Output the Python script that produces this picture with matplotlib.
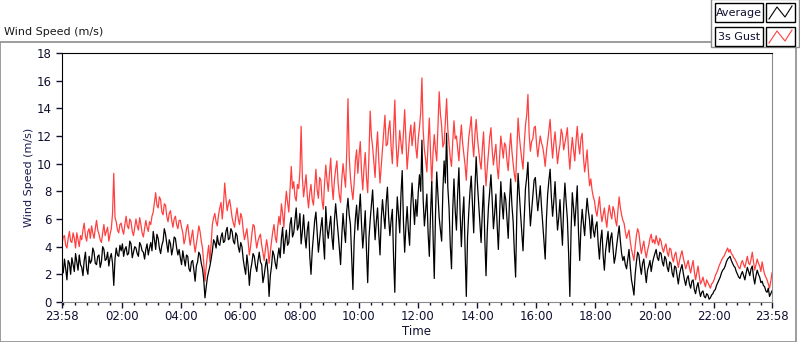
import matplotlib
matplotlib.use("Agg")
import matplotlib.pyplot as plt
import numpy as np
from matplotlib.patches import Rectangle

# 2.5 minute samples, one row per hour, starting 23:58
average = [
    2.6, 2.1, 3.1, 2.4, 1.6, 3.0, 2.8, 2.0, 3.2, 2.7, 2.2, 3.5, 2.9, 2.3, 3.4, 2.7, 2.5, 1.9, 3.0, 3.6, 2.4, 2.0, 3.3, 2.8,
    3.0, 3.9, 3.6, 2.8, 2.7, 3.3, 3.4, 2.5, 2.9, 4.0, 3.8, 3.0, 3.1, 3.6, 2.6, 3.2, 3.5, 2.8, 1.2, 3.1, 3.9, 3.4, 3.3, 4.1,
    3.7, 4.2, 3.3, 3.8, 4.0, 3.4, 3.5, 4.4, 4.2, 3.2, 3.6, 4.0, 3.9, 3.5, 3.3, 4.3, 4.1, 3.7, 3.6, 3.1, 3.8, 4.2, 3.4, 3.9,
    4.3, 3.7, 5.1, 4.5, 3.8, 4.9, 4.6, 3.9, 3.5, 4.1, 4.4, 5.3, 4.9, 4.2, 3.6, 4.5, 4.2, 3.4, 3.9, 4.7, 4.6, 3.9, 3.4, 3.8,
    3.2, 2.7, 3.7, 3.1, 2.6, 3.4, 3.3, 2.4, 2.2, 2.9, 3.0, 2.3, 1.5, 2.6, 2.9, 3.6, 3.4, 2.8, 2.4, 1.6, 0.3, 1.1, 1.8, 2.2,
    2.6, 3.1, 3.7, 4.5, 4.3, 3.9, 4.8, 4.2, 4.1, 4.7, 5.0, 4.3, 4.4, 5.1, 5.4, 4.5, 4.6, 5.3, 5.1, 4.4, 4.2, 5.0, 4.8, 4.0,
    3.6, 4.3, 4.0, 3.1, 2.5, 2.0, 3.4, 2.6, 1.2, 2.3, 2.8, 3.5, 3.3, 2.6, 2.2, 3.0, 3.6, 2.9, 2.7, 1.4, 1.9, 2.6, 3.1, 2.2,
    0.4, 1.9, 2.6, 3.7, 3.4, 2.8, 2.4, 3.3, 3.9, 3.2, 4.6, 5.4, 3.5, 4.4, 5.2, 4.1, 4.3, 5.6, 6.1, 4.7, 5.0, 5.9, 6.8, 5.2,
    5.5, 6.4, 4.2, 5.1, 6.3, 4.8, 3.9, 5.2, 5.8, 3.3, 2.0, 3.7, 4.8, 5.9, 6.5, 5.0, 3.6, 4.5, 5.4, 6.1, 4.4, 3.1, 6.9, 5.3,
    4.6, 5.5, 6.2, 4.7, 3.8, 5.9, 7.1, 6.0, 5.0, 3.9, 2.7, 4.8, 6.4, 5.2, 4.3, 6.6, 7.5, 6.3, 5.6, 3.2, 0.9, 4.4, 6.0, 7.0,
    5.2, 6.5, 7.8, 5.6, 3.9, 5.1, 6.6, 3.8, 1.4, 4.6, 5.9, 7.0, 8.1, 6.2, 4.5, 5.8, 6.8, 4.9, 3.4, 6.0, 7.4, 6.3, 5.3, 7.2,
    8.3, 6.1, 4.8, 5.9, 6.7, 3.2, 0.7, 5.4, 7.6, 6.3, 5.0, 7.8, 9.5, 5.8, 3.6, 5.5, 6.9, 5.2, 4.1, 7.0, 8.6, 7.1, 5.6, 7.4,
    6.2, 7.9, 9.2, 8.0, 11.7, 7.4, 5.5, 6.6, 7.8, 5.0, 3.3, 6.4, 8.7, 4.9, 1.7, 6.3, 9.4, 7.7, 6.1, 5.2, 4.4, 8.1, 10.2, 8.6,
    12.2, 8.3, 6.8, 4.1, 2.4, 6.7, 8.9, 6.6, 5.2, 7.9, 9.7, 6.4, 4.0, 6.2, 7.6, 3.8, 0.4, 4.7, 6.5, 8.0, 9.1, 7.0, 5.0, 8.2,
    10.5, 8.6, 7.2, 5.9, 4.3, 6.5, 8.4, 4.6, 1.9, 5.1, 6.9, 8.0, 9.2, 7.4, 5.3, 6.4, 7.8, 5.6, 3.8, 6.3, 8.7, 7.1, 6.0, 7.9,
    7.4, 6.0, 4.6, 7.2, 8.9, 7.0, 5.8, 3.6, 1.8, 6.5, 9.3, 7.8, 6.4, 5.0, 3.7, 6.1, 8.2, 9.0, 10.1, 7.3, 5.5, 6.6, 7.7, 8.8,
    9.0, 7.7, 6.6, 7.5, 8.4, 6.9, 5.7, 4.4, 3.1, 6.0, 7.8, 8.8, 9.6, 7.6, 6.2, 7.3, 8.7, 6.8, 5.2, 6.1, 7.4, 5.6, 4.1, 6.9,
    8.6, 7.2, 6.0, 3.5, 0.4, 5.2, 7.9, 6.8, 5.5, 7.0, 8.4, 5.1, 3.0, 5.4, 6.7, 5.7, 4.8, 6.3, 7.5, 6.6, 5.9, 4.6, 6.3, 5.2,
    4.7, 5.5, 5.8, 4.2, 3.1, 4.5, 5.2, 3.4, 2.3, 3.7, 4.4, 5.1, 3.6, 4.6, 5.0, 3.9, 2.8, 3.3, 4.1, 4.8, 5.5, 4.4, 3.5, 3.0,
    3.3, 2.7, 2.4, 3.1, 3.8, 2.6, 1.6, 1.1, 0.5, 2.0, 2.9, 3.6, 3.4, 2.6, 2.0, 2.8, 3.1, 2.2, 1.4, 2.3, 2.6, 3.0, 2.2, 2.8,
    3.2, 3.5, 3.8, 3.2, 3.0, 3.6, 3.5, 2.9, 2.6, 3.3, 3.1, 2.5, 2.2, 2.9, 2.8, 2.1, 1.8, 2.6, 2.5, 1.9, 1.3, 2.0, 2.4, 2.7,
    2.1, 1.6, 1.2, 1.7, 1.9, 1.3, 1.0, 1.5, 1.6, 0.9, 0.6, 1.1, 1.4, 0.8, 0.4, 0.7, 0.8, 0.4, 0.3, 0.6, 0.5, 0.2, 0.3, 0.5,
    0.6, 0.8, 0.9, 1.2, 1.4, 1.6, 1.8, 2.1, 2.3, 2.4, 2.6, 2.9, 3.1, 3.2, 3.3, 3.0, 2.8, 2.6, 2.5, 2.2, 2.0, 1.8, 1.7, 2.0,
    2.2, 1.9, 1.6, 2.1, 2.5, 2.2, 1.9, 2.4, 2.6, 1.8, 1.3, 1.9, 2.3, 2.0, 1.8, 1.4, 1.5, 1.2, 1.1, 0.8, 0.7, 1.0, 0.4, 0.6,
    0.8,
]

gust = [
    4.2, 4.7, 4.8, 4.1, 3.9, 4.6, 5.1, 4.4, 4.3, 5.0, 4.6, 3.9, 5.0, 4.5, 4.0, 4.8, 4.5, 5.2, 5.7, 4.8, 4.4, 5.1, 5.3, 4.6,
    5.5, 5.0, 4.6, 5.3, 5.9, 5.2, 4.9, 4.5, 4.3, 5.0, 5.6, 4.8, 5.1, 5.4, 4.4, 4.9, 5.3, 6.4, 9.3, 6.1, 5.8, 5.2, 5.0, 5.6,
    5.7, 5.2, 4.9, 5.6, 6.2, 5.5, 5.3, 6.0, 5.8, 5.1, 4.8, 5.4, 6.0, 5.5, 5.2, 6.1, 5.6, 5.0, 4.7, 5.3, 5.9, 5.4, 5.1, 5.8,
    5.6, 6.2, 6.5, 7.2, 7.9, 7.0, 6.8, 7.6, 7.4, 6.5, 6.3, 7.1, 7.0, 6.2, 5.8, 6.4, 6.6, 5.9, 5.4, 6.0, 6.2, 5.6, 5.3, 5.9,
    5.9, 5.4, 5.0, 4.2, 4.6, 5.3, 5.6, 4.8, 4.1, 4.7, 5.2, 4.3, 3.6, 4.2, 4.8, 5.5, 5.1, 4.4, 3.9, 2.8, 1.5, 2.6, 3.4, 4.1,
    2.9, 4.3, 5.6, 6.1, 6.4, 5.8, 5.5, 6.3, 6.8, 7.2, 6.0, 7.0, 8.6, 7.5, 6.6, 7.1, 7.4, 6.8, 6.1, 5.7, 5.4, 6.2, 6.8, 6.0,
    5.6, 6.4, 6.1, 5.2, 4.5, 4.9, 5.3, 4.4, 3.4, 4.0, 4.9, 5.6, 5.5, 4.6, 3.9, 4.4, 4.7, 4.9, 4.1, 3.6, 3.0, 3.8, 4.5, 3.9,
    2.8, 3.6, 4.4, 5.1, 5.6, 4.7, 4.3, 5.4, 6.2, 5.6, 7.1, 6.4, 5.4, 6.9, 8.0, 7.2, 6.5, 8.1, 9.8, 8.2, 8.7, 7.6, 7.3, 8.5,
    8.2, 9.4, 12.7, 9.0, 7.6, 8.4, 9.2, 7.7, 6.8, 7.9, 8.5, 7.4, 7.0, 8.3, 9.6, 8.1, 7.5, 9.0, 8.8, 7.3, 6.7, 8.6, 9.9, 8.8,
    8.0, 9.3, 10.4, 8.5, 7.4, 8.8, 9.6, 10.2, 8.6, 7.7, 7.2, 8.9, 10.0, 9.1, 8.3, 10.8, 14.7, 10.5, 9.0, 8.1, 7.4, 8.6, 10.2, 11.0,
    9.3, 10.6, 11.6, 9.4, 8.1, 9.7, 10.8, 9.0, 7.9, 10.5, 13.8, 12.0, 11.2, 10.1, 9.0, 11.0, 12.3, 10.2, 8.6, 9.8, 10.9, 12.1, 13.5, 11.3,
    11.4, 12.5, 13.1, 11.2, 10.0, 12.3, 14.6, 11.6, 9.8, 11.0, 12.4, 11.5, 10.7, 12.2, 13.9, 11.8, 9.6, 10.8, 12.0, 12.8, 11.3, 12.1, 13.0, 11.2,
    10.4, 11.8, 12.6, 13.7, 16.2, 12.4, 11.0, 10.3, 9.4, 11.5, 13.3, 10.7, 8.6, 10.8, 12.1, 11.0, 10.2, 12.6, 15.2, 13.6, 12.7, 11.2, 11.5, 13.0,
    14.7, 12.5, 11.4, 10.4, 9.8, 11.6, 13.1, 11.8, 12.0, 11.1, 10.2, 11.7, 12.8, 11.5, 10.7, 9.9, 8.8, 10.6, 11.9, 12.6, 13.4, 11.6, 10.5, 12.1,
    13.2, 11.9, 11.0, 10.2, 9.6, 11.1, 12.3, 10.0, 8.4, 9.7, 10.8, 11.9, 12.6, 11.0, 9.9, 10.7, 11.4, 9.8, 8.9, 10.5, 12.0, 11.2, 10.4, 11.5,
    11.3, 10.2, 9.5, 11.0, 12.2, 10.9, 10.0, 9.2, 8.7, 10.9, 13.3, 12.0, 11.1, 10.3, 9.6, 11.4, 12.8, 13.5, 15.0, 12.1, 10.9, 11.6, 11.8, 12.6,
    12.7, 11.4, 10.5, 11.3, 12.0, 11.5, 11.2, 10.6, 9.8, 10.9, 11.6, 12.4, 13.2, 11.6, 10.4, 11.5, 12.3, 11.1, 10.0, 10.8, 11.4, 12.5, 12.1, 11.0,
    11.5, 12.0, 12.6, 10.8, 9.6, 10.9, 11.9, 11.0, 10.2, 11.6, 12.7, 11.4, 10.7, 11.8, 12.2, 10.5, 9.4, 10.1, 11.0, 9.5, 8.4, 8.9, 8.1, 7.6,
    7.3, 6.6, 6.2, 6.9, 7.6, 6.5, 5.8, 6.3, 6.8, 6.0, 5.4, 6.4, 7.0, 6.4, 6.0, 6.9, 6.6, 5.9, 5.5, 6.6, 7.6, 6.8, 6.3, 5.9,
    5.7, 5.1, 4.6, 4.9, 5.2, 4.4, 3.8, 3.4, 3.0, 4.0, 4.8, 5.3, 5.0, 4.2, 3.5, 4.0, 4.4, 3.7, 3.2, 3.7, 4.1, 4.6, 4.9, 4.3,
    4.5, 4.2, 4.8, 4.4, 4.1, 4.6, 4.4, 3.9, 3.6, 4.0, 4.2, 3.6, 3.3, 3.9, 3.8, 3.2, 2.9, 3.4, 3.6, 3.0, 2.5, 3.0, 3.4, 3.7,
    3.2, 2.8, 2.4, 2.7, 3.0, 2.5, 2.1, 2.6, 3.0, 2.2, 1.6, 2.1, 2.6, 1.9, 1.3, 1.5, 1.8, 1.4, 1.1, 1.6, 1.4, 1.2, 1.0, 1.3,
    1.4, 1.6, 1.9, 2.1, 2.3, 2.6, 2.8, 3.0, 3.2, 3.3, 3.5, 3.7, 3.9, 3.6, 3.8, 3.5, 3.4, 3.2, 3.1, 2.9, 2.7, 2.5, 2.4, 2.8,
    3.0, 2.7, 2.5, 2.9, 3.3, 2.8, 2.7, 3.1, 3.6, 2.9, 2.3, 2.7, 3.1, 2.8, 2.6, 2.2, 2.9, 2.4, 2.0, 1.8, 1.6, 1.3, 1.0, 1.5,
    2.1,
]

tick_labels = ["23:58", "02:00", "04:00", "06:00", "08:00", "10:00",
               "12:00", "14:00", "16:00", "18:00", "20:00", "22:00", "23:58"]
tick_minutes = [0, 122, 242, 362, 482, 602, 722, 842, 962, 1082, 1202, 1322, 1440]

minutes = np.arange(len(average)) * 2.5

plt.rcParams['font.family'] = ['DejaVu Sans']
fig = plt.figure(figsize=(8, 3.42), dpi=100)

# outer panel frame
fig.patches.append(Rectangle((0.0, 0.0), 0.995, 0.877, transform=fig.transFigure,
                             fill=False, edgecolor='#8c8c8c', lw=1.2))
fig.text(0.005, 0.905, "Wind Speed (m/s)", fontsize=8, color='#1a1a1a', va='center')

ax = fig.add_axes([0.0775, 0.117, 0.8875, 0.728])
ax.plot(minutes, gust, color='#ff4040', lw=0.9)
ax.plot(minutes, average, color='black', lw=0.9)

ax.set_xlim(0, 1440)
ax.set_ylim(0, 18)
ax.set_yticks(range(0, 19, 2))
ax.set_xticks(tick_minutes)
ax.set_xticklabels(tick_labels)
ax.set_xticks(np.arange(2, 1440, 24), minor=True)
ax.tick_params(axis='both', labelsize=8.5, colors='#101030', length=4, width=1)
ax.tick_params(axis='x', which='minor', length=2.5, width=1, colors='#101030')
ax.tick_params(axis='x', pad=2)
ax.set_ylabel("Wind Speed (m/s)", fontsize=8, color='#1a1a50', labelpad=2)
ax.set_xlabel("Time", fontsize=8.5, color='#101030', labelpad=1)
for s in ['left', 'top']:
    ax.spines[s].set_color('black')
for s in ['right', 'bottom']:
    ax.spines[s].set_color('#8c8c8c')

# legend boxes, LabVIEW style
names = ["Average", "3s Gust"]
colors = ['black', '#ff4040']
fig.patches.append(Rectangle((0.889, 0.862), 0.11, 0.14, transform=fig.transFigure,
                             facecolor='white', edgecolor='#8c8c8c', lw=1))
for i, (n, c) in enumerate(zip(names, colors)):
    y0 = 1 - (22 + 24 * i) / 342
    fig.patches.append(Rectangle((715 / 800, y0), 48 / 800, 19 / 342, transform=fig.transFigure,
                                 facecolor='white', edgecolor='black', lw=1))
    fig.text(739 / 800, y0 + 9.5 / 342, n, fontsize=8, ha='center', va='center', color='#101030')
    fig.patches.append(Rectangle((766 / 800, y0), 29 / 800, 19 / 342, transform=fig.transFigure,
                                 facecolor='white', edgecolor='black', lw=1))
    sx = np.array([769, 777, 785, 792]) / 800
    sy = y0 + np.array([3, 15, 5, 16]) / 342
    fig.add_artist(plt.Line2D(sx, sy, color=c, lw=0.8, transform=fig.transFigure))

fig.savefig("out.png", dpi=100)
